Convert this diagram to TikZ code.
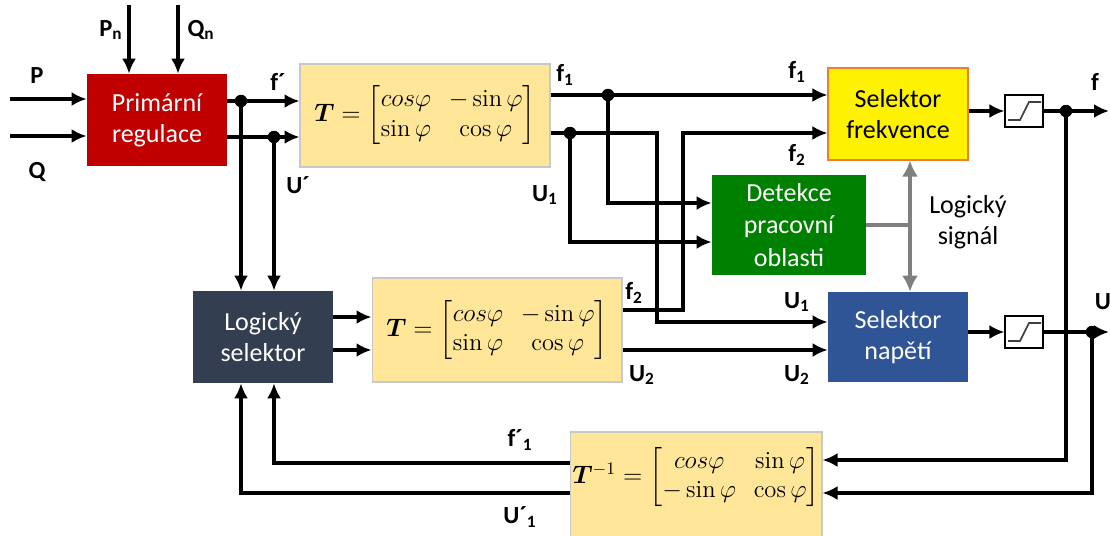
\documentclass[tikz,border=0pt]{standalone}
\usepackage{amsmath,amssymb}
\usepackage{bm}
\usepackage{fontspec}
\setsansfont{Carlito}
\usetikzlibrary{arrows.meta,positioning,calc}
\definecolor{primred}{HTML}{C00000}
\definecolor{matyellow}{HTML}{FFE699}
\definecolor{matborder}{HTML}{C8C8C8}
\definecolor{seldark}{HTML}{333F50}
\definecolor{detgreen}{HTML}{008000}
\definecolor{selblue}{HTML}{2F5597}
\definecolor{selorange}{HTML}{ED7D31}
\definecolor{sigray}{HTML}{808080}

\begin{document}
\begin{tikzpicture}[x=0.02cm,y=-0.02cm,
    blok/.style={rectangle,align=center,inner sep=0pt,font=\sffamily\fontsize{14.8}{17.6}\selectfont},
    matbox/.style={rectangle,fill=matyellow,draw=matborder,line width=0.6pt,inner sep=0pt,font=\fontsize{14}{17}\selectfont},
    limbox/.style={rectangle,fill=white,draw=black,line width=0.6pt,minimum width=0.76cm,minimum height=0.64cm},
    limline/.style={line width=1pt,draw=black!75},
    wire/.style={line width=1.9pt},
    sig/.style={wire,-{Latex[length=3mm,width=2.8mm]}},
    gwire/.style={line width=2.4pt,draw=sigray},
    gsig/.style={gwire,{Latex[length=3.2mm,width=3.2mm]}-{Latex[length=3.2mm,width=3.2mm]}},
    lbl/.style={inner sep=0pt,font=\sffamily\bfseries\fontsize{14}{16}\selectfont},
    jdot/.style={circle,fill=black,inner sep=0pt,minimum size=0.25cm}]
  \useasboundingbox (0,0) rectangle (1110,535);

  % blocks
  \node[blok,fill=primred,text=white,minimum width=2.8cm,minimum height=1.84cm] (prim) at (157,120) {Primární\\regulace};
  \node[matbox,minimum width=5cm,minimum height=2.06cm] (T1) at (425,115.5)
    {$\bm{T}=\begin{bmatrix}cos\varphi & -\sin\varphi\\ \sin\varphi & \cos\varphi\end{bmatrix}$};
  \node[matbox,minimum width=5cm,minimum height=2.08cm] (T2) at (497,330)
    {$\bm{T}=\begin{bmatrix}cos\varphi & -\sin\varphi\\ \sin\varphi & \cos\varphi\end{bmatrix}$};
  \node[matbox,minimum width=5.04cm,minimum height=2.2cm] (Tinv) at (696,487) {};
  \node[inner sep=0pt,font=\fontsize{14}{17}\selectfont] (Tinvtxt) at (696,477)
    {$\bm{T}^{-1}=\begin{bmatrix}cos\varphi & \sin\varphi\\ -\sin\varphi & \cos\varphi\end{bmatrix}$};
  \node[blok,fill=seldark,text=white,minimum width=2.8cm,minimum height=1.84cm] (logsel) at (263,337) {Logický\\selektor};
  \node[blok,fill=detgreen,text=white,minimum width=3.08cm,minimum height=2cm,font=\sffamily\fontsize{14.8}{18.7}\selectfont] (det) at (789,225) {Detekce\\pracovní\\oblasti};
  \node[blok,fill=yellow,draw=selorange,line width=0.6pt,minimum width=2.8cm,minimum height=1.84cm] (selfreq) at (898,114) {Selektor\\frekvence};
  \node[blok,fill=selblue,text=white,minimum width=2.8cm,minimum height=1.8cm] (selnap) at (898,337) {Selektor\\napětí};
  \node[limbox] (lim1) at (1024,111) {};
  \node[limbox] (lim2) at (1024,332) {};
  \foreach \l in {lim1,lim2}
    \draw[limline] ([shift={(-16,9)}]\l.center) -- ++(12,0) -- ++(9,-18) -- ++(12,0);

  % inputs
  \coordinate (pin) at (10,99);
  \coordinate (qin) at (10,136);
  \coordinate (pnin) at (129,5);
  \coordinate (qnin) at (178,5);
  \draw[sig] (pin) -- (prim.west |- pin);
  \draw[sig] (qin) -- (prim.west |- qin);
  \draw[sig] (pnin) -- (prim.north -| pnin);
  \draw[sig] (qnin) -- (prim.north -| qnin);

  % primary regulation outputs
  \coordinate (fd) at (241,101);
  \coordinate (ud) at (274,137);
  \draw[wire] (prim.east |- fd) -- (fd);
  \draw[sig] (fd) -- (T1.west |- fd);
  \draw[sig] (prim.east |- ud) -- (T1.west |- ud);
  \draw[sig] (fd) -- (logsel.north -| fd);
  \draw[sig] (ud) -- (logsel.north -| ud);

  % T outputs
  \coordinate (f1d) at (608,95);
  \coordinate (u1d) at (570,133);
  \coordinate (u1b) at (657,322);
  \coordinate (f2b) at (683,133);
  \coordinate (d1) at ([yshift=0.44cm]det.west);
  \coordinate (d2) at ([yshift=-0.34cm]det.west);
  \draw[sig] (T1.east |- f1d) -- (selfreq.west |- f1d);
  \draw[sig] (T1.east |- u1d) -| (u1b) -- (selnap.west |- u1b);
  \draw[sig] (f1d) |- (d1);
  \draw[sig] (u1d) |- (d2);
  \coordinate (t2f) at ([yshift=0.4cm]T2.east);
  \coordinate (t2u) at ([yshift=-0.4cm]T2.east);
  \draw[sig] (t2f) -| (f2b) -- (selfreq.west |- f2b);
  \draw[sig] (t2u) -- (selnap.west |- t2u);

  % logic selector to T
  \coordinate (ls1) at ([yshift=0.4cm]logsel.east);
  \coordinate (ls2) at ([yshift=-0.26cm]logsel.east);
  \draw[sig] (ls1) -- (ls1 -| T2.west);
  \draw[sig] (ls2) -- (ls2 -| T2.west);

  % logic signal
  \coordinate (gj) at (910,225);
  \draw[gwire] (det.east |- gj) -- (gj);
  \draw[gsig] (selfreq.south -| gj) -- (selnap.north -| gj);

  % limiters and outputs
  \coordinate (fo) at (1066,111);
  \coordinate (uo) at (1092,332);
  \coordinate (fend) at (1109,111);
  \coordinate (uend) at (1109,332);
  \draw[sig] (selfreq.east |- lim1) -- (lim1.west);
  \draw[sig] (selnap.east |- lim2) -- (lim2.west);
  \draw[wire] (lim1.east) -- (fo);
  \draw[sig] (fo) -- (fend);
  \draw[wire] (lim2.east) -- (uo);
  \draw[sig] (uo) -- (uend);

  % feedback
  \coordinate (fb1) at ([yshift=0.54cm]Tinv.east);
  \coordinate (fb2) at ([yshift=-0.12cm]Tinv.east);
  \coordinate (fi1) at ([yshift=0.48cm]Tinv.west);
  \coordinate (fi2) at ([yshift=-0.12cm]Tinv.west);
  \draw[sig] (fo) |- (fb1);
  \draw[sig] (uo) |- (fb2);
  \draw[sig] (fi1) -| (logsel.south -| ud);
  \draw[sig] (fi2) -| (logsel.south -| fd);

  \foreach \d in {fd,ud,f1d,u1d,fo,uo}
    \node[jdot] (dot\d) at (\d) {};

  % labels
  \node[lbl] (lP) at (37,76) {P};
  \node[lbl] (lQ) at (37,172) {Q};
  \node[lbl] (lPn) at (111,30) {P\textsubscript{n}};
  \node[lbl] (lQn) at (201,30) {Q\textsubscript{n}};
  \node[lbl] (lf) at (278,82) {f´};
  \node[lbl] (lU) at (298,185) {U´};
  \node[lbl] (lf1a) at (565,75) {f\textsubscript{1}};
  \node[lbl] (lU1a) at (545,195) {U\textsubscript{1}};
  \node[lbl] (lf1b) at (797,72) {f\textsubscript{1}};
  \node[lbl] (lf2b) at (797,155) {f\textsubscript{2}};
  \node[lbl] (lf2a) at (634,293) {f\textsubscript{2}};
  \node[lbl] (lU2a) at (642,375) {U\textsubscript{2}};
  \node[lbl] (lU1b) at (797,302) {U\textsubscript{1}};
  \node[lbl] (lU2b) at (797,375) {U\textsubscript{2}};
  \node[lbl] (lfo) at (1095,82) {f};
  \node[lbl] (lUo) at (1103,302) {U};
  \node[lbl] (lfi) at (520,440) {f´\textsubscript{1}};
  \node[lbl] (lUi) at (520,517) {U´\textsubscript{1}};
  \node[font=\sffamily\fontsize{14.8}{17.6}\selectfont,align=center,inner sep=0pt] (lsig) at (968,222) {Logický\\signál};
\end{tikzpicture}
\end{document}
